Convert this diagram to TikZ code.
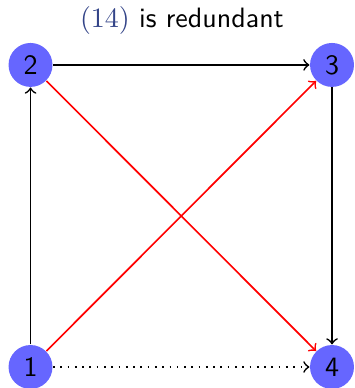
\documentclass[tikz,border=0pt]{standalone}
\usetikzlibrary{arrows}
\definecolor{nodeblue}{RGB}{102,102,255}
\definecolor{titleblue}{RGB}{51,68,136}
\begin{document}
\begin{tikzpicture}[
  vert/.style={circle,fill=nodeblue,minimum size=15.7pt,inner sep=0pt,font=\sffamily},
  arr/.style={->,line width=0.6pt},
  redarr/.style={->,line width=0.6pt,red}
]
\useasboundingbox (0,0) rectangle (126.8pt,138.6pt);
\node[vert] (n1) at (10.9pt,7.5pt) {1};
\node[vert] (n2) at (10.9pt,115.4pt) {2};
\node[vert] (n3) at (118.6pt,115.4pt) {3};
\node[vert] (n4) at (118.6pt,7.5pt) {4};
\node[anchor=base] (title) at (65pt,128.8pt) {\textcolor{titleblue}{$(14)$} \sffamily is redundant};
\draw[arr] (n1) -- (n2);
\draw[arr] (n2) -- (n3);
\draw[arr] (n3) -- (n4);
\draw[arr,dotted] (n1) -- (n4);
\draw[redarr] (n1) -- (n3);
\draw[redarr] (n2) -- (n4);
\end{tikzpicture}
\end{document}
